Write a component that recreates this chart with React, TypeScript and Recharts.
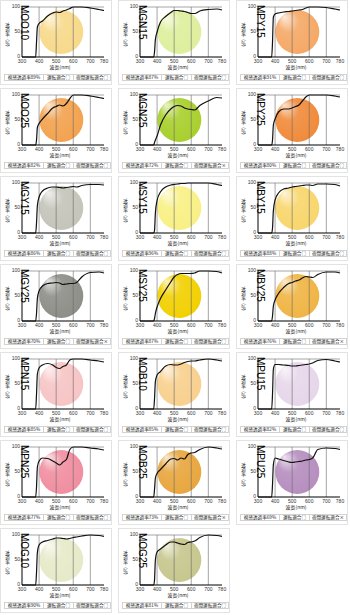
import React from 'react';
import { LineChart, Line, XAxis, YAxis, CartesianGrid, ReferenceDot } from 'recharts';

const WAVELENGTHS = [300, 380, 385, 390, 400, 420, 450, 480, 500, 520, 540, 560, 580, 600, 620, 650, 700, 750, 780];
const X_TICKS = [300, 400, 500, 600, 700, 780];
const Y_TICKS = [0, 50, 100];

const MODELS = [
  'MOO10', 'MGN15', 'MPY15',
  'MOO25', 'MGN25', 'MPY25',
  'MGY15', 'MSY15', 'MBY15',
  'MGY25', 'MSY25', 'MBY25',
  'MPN15', 'MOB10', 'MPU15',
  'MPN25', 'MOB25', 'MPU25',
  'MOG10', 'MOG25',
];

// transmission (%) at each WAVELENGTHS entry, one row per model
const TRANSMISSION = [
  [0, 0, 30, 60, 67, 72, 82, 88, 90, 89, 92, 94, 97, 100, 100, 100, 98, 95, 93], // MOO10
  [0, 0, 10, 35, 50, 70, 81, 89, 93, 93, 92, 91, 89, 87, 87, 92, 95, 96, 94], // MGN15
  [0, 0, 30, 80, 86, 88, 90, 91, 92, 93, 94, 95, 98, 100, 100, 100, 99, 96, 94], // MPY15
  [0, 0, 10, 35, 43, 52, 63, 74, 77, 80, 78, 83, 93, 100, 100, 100, 98, 95, 93], // MOO25
  [0, 0, 5, 10, 18, 40, 60, 72, 77, 79, 78, 74, 72, 71, 70, 79, 88, 95, 94], // MGN25
  [0, 0, 10, 40, 52, 66, 72, 72, 74, 77, 80, 88, 96, 100, 100, 100, 100, 98, 96], // MPY25
  [0, 0, 20, 55, 72, 84, 90, 92, 92, 91, 90, 91, 92, 93, 92, 95, 97, 97, 96], // MGY15
  [0, 0, 5, 40, 65, 82, 92, 96, 97, 98, 99, 99, 100, 100, 100, 100, 100, 97, 95], // MSY15
  [0, 0, 10, 45, 66, 80, 88, 90, 92, 93, 94, 95, 96, 96, 95, 98, 98, 97, 94], // MBY15
  [0, 0, 15, 45, 60, 70, 75, 76, 77, 76, 73, 74, 75, 75, 77, 88, 97, 98, 96], // MGY25
  [0, 0, 5, 15, 28, 45, 62, 78, 88, 93, 95, 95, 95, 95, 96, 100, 100, 99, 96], // MSY25
  [0, 0, 10, 30, 42, 55, 67, 75, 77, 80, 82, 86, 89, 88, 87, 93, 98, 98, 96], // MBY25
  [0, 0, 30, 70, 82, 88, 91, 88, 83, 81, 85, 88, 98, 100, 100, 100, 98, 96, 94], // MPN15
  [0, 0, 20, 55, 68, 75, 86, 89, 88, 88, 90, 93, 95, 96, 96, 98, 100, 98, 96], // MOB10
  [0, 0, 30, 80, 89, 89, 88, 87, 86, 86, 87, 88, 89, 90, 92, 97, 99, 96, 94], // MPU15
  [0, 0, 20, 60, 72, 78, 77, 72, 68, 64, 70, 75, 95, 100, 100, 100, 98, 96, 94], // MPN25
  [0, 0, 15, 38, 47, 55, 66, 76, 77, 74, 78, 76, 85, 88, 89, 95, 100, 98, 96], // MOB25
  [0, 0, 25, 65, 78, 76, 73, 70, 69, 70, 71, 72, 74, 75, 78, 95, 98, 97, 95], // MPU25
  [0, 0, 25, 65, 80, 86, 89, 92, 94, 94, 93, 92, 93, 95, 96, 98, 100, 99, 97], // MOG10
  [0, 0, 10, 50, 66, 72, 80, 86, 86, 84, 82, 81, 85, 86, 88, 95, 100, 99, 97], // MOG25
];

const LUMINOUS = [89, 87, 91, 82, 72, 80, 86, 96, 88, 70, 87, 76, 85, 85, 82, 77, 73, 69, 90, 81];
const NIGHT_OK = [
  true, true, true,
  true, false, true,
  true, true, true,
  false, true, false,
  true, true, true,
  true, false, false,
  true, true,
];

const LENS_COLORS = [
  '#f7d98a', '#ddef9c', '#f5a866',
  '#f3a24e', '#a8cf2c', '#f08a3a',
  '#c4c4ba', '#f8f084', '#f8d66c',
  '#8e8e88', '#f2d000', '#f0b444',
  '#f7c4c4', '#f8d08e', '#e6d6ea',
  '#f08ea0', '#e8a63e', '#b68ebe',
  '#e6eac8', '#c6c68e',
];

const CIRCLE_AT = { nm: 530, t: 50 };

const CJK = '"Noto Sans CJK JP", "Noto Sans", sans-serif';
const LATIN = '"Liberation Sans", Arial, sans-serif';

const COL_LEFT = [0, 118, 236];
const ROW_PITCH = 88;

// mix a hex colour with white
const lighten = (hex: string, k: number) => {
  const n = parseInt(hex.slice(1), 16);
  const ch = [(n >> 16) & 255, (n >> 8) & 255, n & 255].map((c) => Math.round(c + (255 - c) * k));
  return `rgb(${ch.join(',')})`;
};

const Panel = ({ idx }: { idx: number }) => {
  const data = WAVELENGTHS.map((nm, i) => ({ nm, t: TRANSMISSION[idx][i] }));
  const color = LENS_COLORS[idx];
  const gid = `lens${idx}`;
  const cellStyle: React.CSSProperties = {
    position: 'absolute',
    top: 73,
    height: 7,
    border: '1px solid #d2d2d2',
    boxSizing: 'border-box',
    fontSize: 4.6,
    lineHeight: '5px',
    fontFamily: CJK,
    color: '#222',
    textAlign: 'center',
    whiteSpace: 'nowrap',
    overflow: 'hidden',
  };

  return (
    <div
      style={{
        position: 'absolute',
        left: COL_LEFT[idx % 3],
        top: Math.floor(idx / 3) * ROW_PITCH,
        width: 112,
        height: 85,
        border: '1px solid #e3e3e3',
        boxSizing: 'border-box',
        background: '#fff',
      }}
    >
      <LineChart width={111} height={68} data={data} margin={{ top: 6, right: 8, bottom: 0, left: 0 }}>
        <defs>
          <radialGradient id={gid} cx="45%" cy="45%" r="60%" fx="20%" fy="15%">
            <stop offset="0%" stopColor={lighten(color, 0.75)} />
            <stop offset="40%" stopColor={lighten(color, 0.1)} />
            <stop offset="100%" stopColor={color} />
          </radialGradient>
        </defs>
        <ReferenceDot
          x={CIRCLE_AT.nm}
          y={CIRCLE_AT.t}
          r={22}
          fill={`url(#${gid})`}
          stroke="none"
          ifOverflow="visible"
          zIndex={-200}
        />
        <CartesianGrid
          stroke="#6a6a6a"
          strokeWidth={0.6}
          horizontalValues={[50, 100]}
          verticalValues={[400, 500, 600, 700]}
        />
        <XAxis
          dataKey="nm"
          type="number"
          domain={[300, 780]}
          ticks={X_TICKS}
          height={12}
          tickLine={false}
          tickSize={2}
          tickMargin={0}
          axisLine={{ stroke: '#000', strokeWidth: 1 }}
          tick={{ fontSize: 5, fill: '#333', fontFamily: LATIN }}
          interval={0}
        />
        <YAxis
          type="number"
          domain={[0, 100]}
          ticks={Y_TICKS}
          width={21}
          tickLine={false}
          tickSize={2}
          tickMargin={0}
          axisLine={{ stroke: '#000', strokeWidth: 1 }}
          tick={{ fontSize: 5, fill: '#333', fontFamily: LATIN, dy: -1 }}
        />
        <Line
          dataKey="t"
          type="monotone"
          stroke="#111"
          strokeWidth={1.2}
          dot={false}
          activeDot={false}
          isAnimationActive={false}
        />
      </LineChart>

      <div
        style={{
          position: 'absolute',
          left: 28,
          top: 4,
          transform: 'rotate(90deg)',
          transformOrigin: '0 0',
          fontSize: 10,
          lineHeight: '10px',
          fontFamily: LATIN,
          color: '#000',
          whiteSpace: 'nowrap',
        }}
      >
        {MODELS[idx]}
      </div>

      <div
        style={{
          position: 'absolute',
          left: 4,
          top: 22,
          writingMode: 'vertical-rl',
          fontSize: 4.5,
          lineHeight: 1,
          fontFamily: CJK,
          color: '#222',
          whiteSpace: 'nowrap',
        }}
      >
        透過率（％）
      </div>

      <div
        style={{
          position: 'absolute',
          left: 21,
          top: 63,
          width: 76,
          textAlign: 'center',
          fontSize: 5,
          lineHeight: '6px',
          fontFamily: CJK,
          color: '#222',
          whiteSpace: 'nowrap',
        }}
      >
        波長(nm)
      </div>

      <div style={{ ...cellStyle, left: 3, width: 40 }}>視感透過率{LUMINOUS[idx]}%</div>
      <div style={{ ...cellStyle, left: 42, width: 31 }}>運転適合○</div>
      <div style={{ ...cellStyle, left: 72, width: 38 }}>夜間運転適合{NIGHT_OK[idx] ? '○' : '×'}</div>
    </div>
  );
};

export default function App() {
  return (
    <div
      style={{
        position: 'absolute',
        left: 0,
        top: 0,
        width: 350,
        height: 615,
        background: '#fff',
        overflow: 'hidden',
      }}
    >
      {MODELS.map((_, i) => (
        <Panel key={MODELS[i]} idx={i} />
      ))}
    </div>
  );
}
